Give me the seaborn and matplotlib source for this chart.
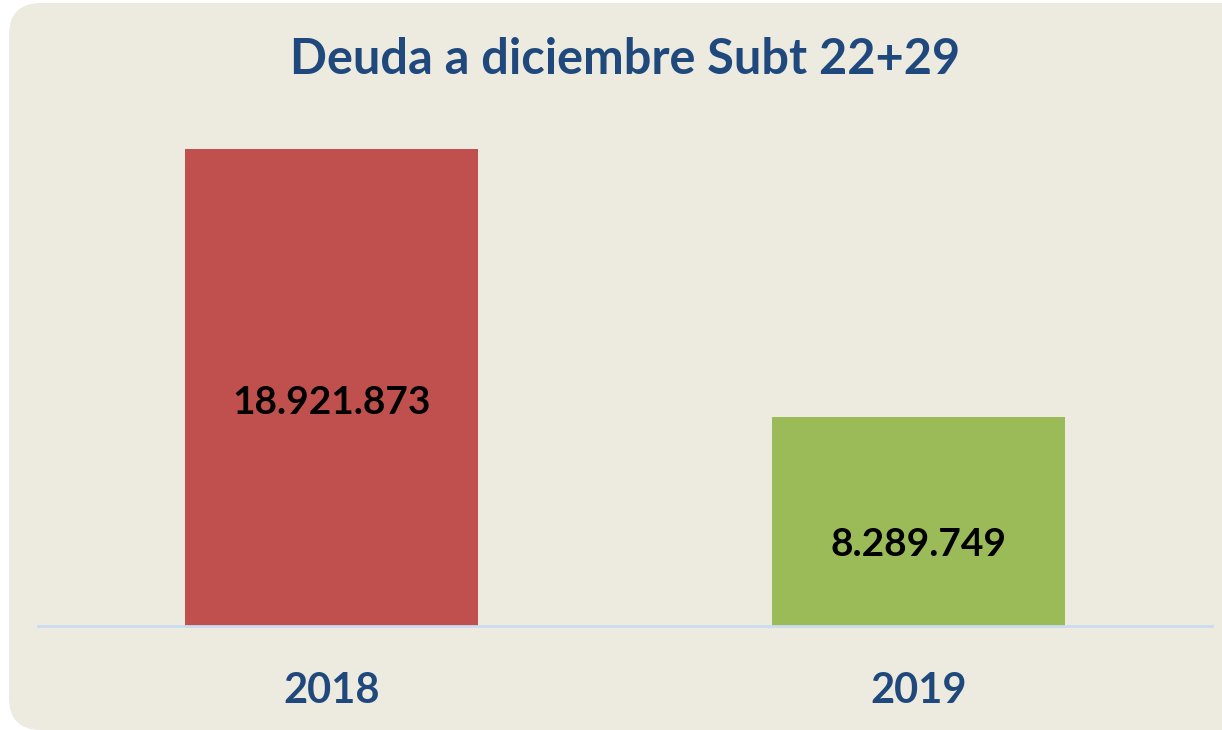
import matplotlib
matplotlib.use("Agg")
import matplotlib.pyplot as plt
from matplotlib.patches import FancyBboxPatch
from matplotlib.transforms import IdentityTransform
import seaborn as sns
import pandas as pd

# Chart data
years = ["2018", "2019"]
debt = [18921873, 8289749]
bar_colors = ["#C0504D", "#9BBB59"]
label_heights = [0.468, 0.39]  # label position as fraction of each bar

title = "Deuda a diciembre Subt 22+29"

sns.set_theme(style="white")
plt.rcParams["font.family"] = ["Lato", "DejaVu Sans"]

W, H, DPI = 1222, 730, 100
fig = plt.figure(figsize=(W / DPI, H / DPI), dpi=DPI)
fig.patch.set_facecolor("white")

# Rounded beige panel behind the chart (pixel coordinates, origin bottom-left)
panel = FancyBboxPatch((9, 0), 1300, 727,
                       boxstyle="round,pad=0,rounding_size=32",
                       transform=IdentityTransform(),
                       facecolor="#EDEAE0", edgecolor="none", zorder=-5)
fig.patches.append(panel)

base_px = 626
top_px = 130
ax = fig.add_axes([38 / W, (H - base_px) / H, (1212 - 38) / W, (base_px - top_px) / H])
ax.set_facecolor("none")
ax.set_zorder(1)

df = pd.DataFrame({"year": years, "debt": debt})
sns.barplot(data=df, x="year", y="debt", hue="year", palette=bar_colors,
            width=0.5, dodge=False, legend=False, saturation=1,
            linewidth=0, edgecolor="none", ax=ax)

ymax = debt[0] * (base_px - top_px) / (base_px - 149)
ax.set_ylim(0, ymax)
ax.set_xlim(-0.5, 1.5)

for i, (v, f) in enumerate(zip(debt, label_heights)):
    ax.text(i, v * f, f"{v:,}".replace(",", "."), ha="center", va="center",
            fontsize=28, fontweight="bold", color="black")

for s in ["left", "right", "top"]:
    ax.spines[s].set_visible(False)
ax.spines["bottom"].set_color("#CADCF0")
ax.spines["bottom"].set_linewidth(2)
ax.set_yticks([])
ax.set_xlabel("")
ax.set_ylabel("")
ax.tick_params(axis="x", length=0, pad=33, labelsize=30, labelcolor="#1F497D")
for lbl in ax.get_xticklabels():
    lbl.set_fontweight("bold")

fig.text(625 / W, 1 - 60 / H, title, ha="center", va="center",
         fontsize=35, fontweight="bold", color="#1F497D")

fig.savefig("out.png", dpi=DPI)
